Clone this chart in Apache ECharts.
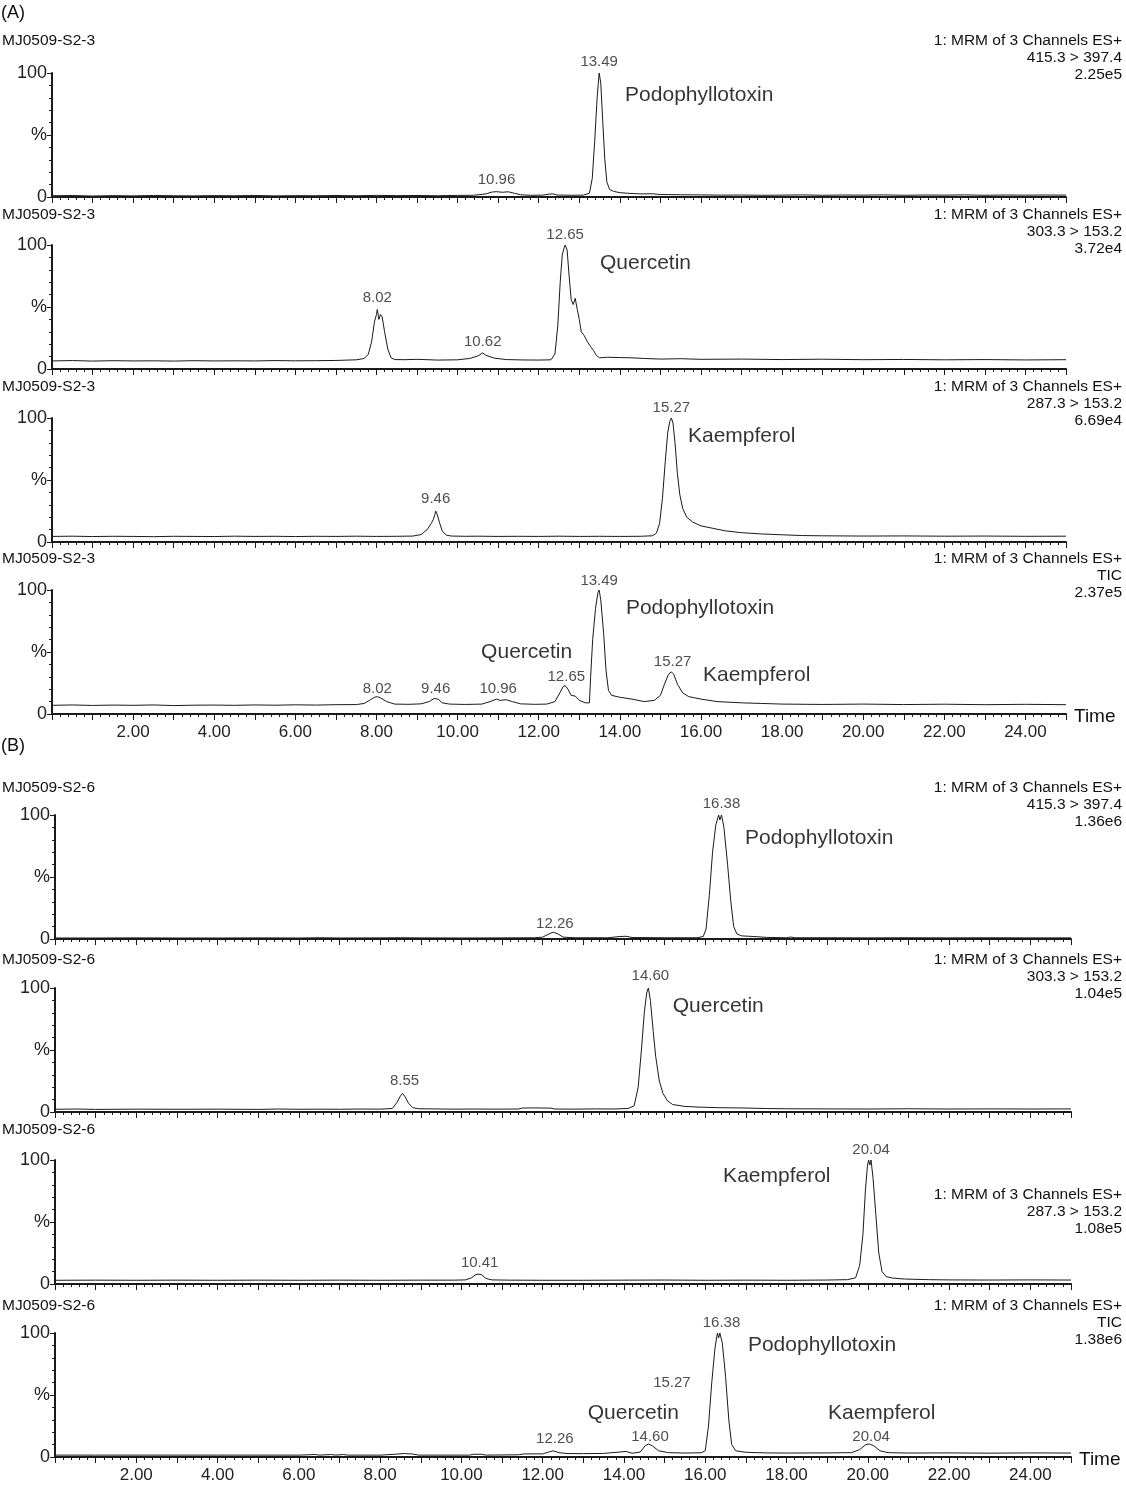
<!DOCTYPE html>
<html><head><meta charset="utf-8">
<script src="https://cdn.jsdelivr.net/npm/echarts@6/dist/echarts.min.js"></script>
<style>html,body{margin:0;padding:0;background:#fff}#c{width:1126px;height:1486px}</style>
</head><body><div id="c"></div>
<script>
// ---------- data (time in min, intensity in %) ----------
const a1Podo = [[0,1],[0.5,1.2],[1,0.8],[1.5,1.1],[2,0.9],[2.5,1.2],[3,1],[3.5,0.9],[4,1.1],[4.5,1],[5,1.2],[5.5,0.9],[6,1.1],[6.5,1],[7,1.2],[7.5,1],[8,1.3],[8.5,1.1],[9,1.2],[9.5,1.0],[10,1.3],[10.4,1.4],[10.7,2.5],[10.85,4],[10.96,4.3],[11.1,3.8],[11.25,4.2],[11.4,3],[11.55,1.8],[11.8,1.4],[12.1,1.5],[12.25,2.3],[12.35,2.5],[12.45,1.6],[12.8,1.4],[13.1,1.5],[13.25,3],[13.32,15],[13.38,45],[13.44,80],[13.49,100],[13.53,92],[13.58,60],[13.63,30],[13.68,12],[13.75,6],[13.85,4.5],[14,3.5],[14.2,3],[14.5,2.5],[14.8,2.6],[15,2],[15.5,1.8],[16,1.7],[16.5,1.5],[17,1.6],[17.5,1.4],[18,1.5],[18.5,1.7],[19,1.4],[19.5,1.6],[20,1.5],[20.5,1.7],[21,1.4],[21.5,1.6],[22,1.5],[22.5,1.7],[23,1.4],[23.5,1.6],[24,1.5],[24.5,1.6],[25,1.5]];
const a2Quer = [[0,6.5],[0.5,6.8],[1,6.4],[1.5,6.7],[2,6.5],[2.5,6.6],[3,6.4],[3.5,6.7],[4,6.5],[4.5,6.6],[5,6.5],[5.5,6.8],[6,6.6],[6.5,6.7],[7,6.9],[7.3,7.2],[7.5,7.4],[7.7,8.5],[7.8,12],[7.88,22],[7.95,38],[8.0,44],[8.02,48],[8.06,40],[8.1,44],[8.14,42],[8.2,30],[8.28,16],[8.36,9],[8.45,7.6],[8.7,7.5],[9,7.8],[9.5,7.2],[10,7.4],[10.3,8.5],[10.5,10.5],[10.62,13],[10.7,11],[10.9,8.8],[11.2,7.6],[11.6,7.3],[12,7.2],[12.3,7.4],[12.4,12],[12.47,35],[12.53,70],[12.58,92],[12.63,98],[12.65,100],[12.7,96],[12.75,75],[12.8,56],[12.85,52],[12.9,57],[12.95,48],[13.0,40],[13.05,30],[13.12,27],[13.2,22],[13.28,18],[13.35,15],[13.42,11],[13.5,9],[13.7,9.5],[14,9.2],[14.3,9],[14.6,8.5],[15,8],[15.5,8.3],[16,7.8],[17,8],[18,7.6],[19,7.9],[20,7.5],[21,7.7],[22,7.4],[23,7.6],[24,7.3],[25,7.5]];
const a3Kaem = [[0,4.5],[0.5,4.7],[1,4.4],[1.5,4.6],[2,4.5],[2.5,4.3],[3,4.6],[3.5,4.5],[4,4.4],[4.5,4.7],[5,4.5],[5.5,4.6],[6,4.4],[6.5,4.6],[7,4.5],[7.5,4.7],[8,4.5],[8.5,4.6],[8.9,4.8],[9.1,6],[9.25,10],[9.35,15],[9.4,18],[9.44,22],[9.46,25],[9.5,22],[9.55,16],[9.62,9],[9.72,5.5],[9.85,4.8],[10.2,4.6],[10.5,4.7],[11,4.5],[11.5,4.6],[12,4.5],[12.5,4.7],[13,4.5],[13.5,4.6],[14,4.5],[14.5,4.6],[14.8,5],[14.9,7],[14.98,15],[15.05,35],[15.12,65],[15.18,88],[15.23,97],[15.27,100],[15.31,96],[15.36,80],[15.42,55],[15.48,38],[15.55,27],[15.65,20],[15.8,16],[16,13],[16.3,11],[16.6,9],[17,7.5],[17.5,6.5],[18,5.8],[18.5,5.2],[19,5],[20,4.8],[21,4.9],[22,4.7],[23,4.8],[24,4.6],[25,4.7]];
const a4Tic = [[0,7],[0.5,7.3],[1,6.9],[1.5,7.2],[2,7],[2.5,7.3],[3,6.8],[3.5,7.1],[4,7.2],[4.5,7],[5,7.3],[5.5,7.1],[6,7.4],[6.5,7.2],[7,7.5],[7.5,7.6],[7.7,8.5],[7.85,11.5],[7.95,13.5],[8.02,14],[8.1,13],[8.25,10],[8.45,8],[8.8,7.8],[9.1,8.2],[9.3,10],[9.42,12.5],[9.46,14],[9.52,12],[9.62,9],[9.8,8],[10.2,7.7],[10.6,8],[10.8,10],[10.96,12],[11.05,11],[11.2,11.5],[11.35,10],[11.55,8.2],[11.9,7.8],[12.2,8],[12.4,10],[12.52,17],[12.6,22],[12.65,23],[12.72,20],[12.8,15],[12.9,14.5],[13,11],[13.15,9],[13.25,9],[13.28,30],[13.33,60],[13.4,85],[13.46,98],[13.49,100],[13.53,92],[13.6,65],[13.66,35],[13.72,19],[13.8,15],[14,13.5],[14.3,12],[14.6,10],[14.85,11],[15.0,15],[15.1,24],[15.2,32],[15.27,34],[15.33,32],[15.42,24],[15.55,17],[15.7,14],[16,12],[16.4,10],[17,9],[17.5,8.5],[18,8],[19,7.7],[20,8],[21,7.6],[22,7.9],[23,7.5],[24,7.8],[25,7.5]];

const b1Podo = [[0,0.8],[1,0.8],[2,0.9],[3,0.8],[4,0.8],[5,0.9],[6,0.8],[6.5,1],[7,0.8],[8,0.9],[8.5,1],[9,0.9],[10,0.8],[11,0.9],[11.8,1],[12.0,1.5],[12.15,4],[12.26,5.5],[12.38,4],[12.5,1.5],[12.8,1],[13.6,1],[13.9,2],[14.05,2.2],[14.2,1.2],[15,1],[15.8,1],[15.95,2],[16.02,8],[16.1,35],[16.18,70],[16.26,92],[16.33,100],[16.36,96],[16.4,100],[16.46,90],[16.55,60],[16.63,30],[16.7,10],[16.78,4],[16.9,2.5],[17.2,2.0],[17.5,1.3],[18,1],[18.1,1.6],[18.2,1],[19,1],[20,0.9],[21,1],[22,0.9],[23,1],[24,0.9],[25,0.9]];
const b2Quer = [[0,2.2],[0.5,2.4],[1,2.1],[2,2.3],[3,2.2],[4,2.3],[5,2.1],[5.5,2.4],[6,2.2],[6.5,2.3],[7,2.2],[7.5,2.4],[8,2.3],[8.3,2.8],[8.42,8],[8.5,13],[8.55,15],[8.62,12],[8.7,7],[8.8,3.5],[8.95,2.6],[9.3,2.5],[9.8,2.3],[10.3,2.4],[10.8,2.3],[11.4,2.4],[11.5,3.2],[11.8,3.3],[12.2,3.1],[12.3,2.4],[12.8,2.3],[13.3,2.5],[13.7,2.4],[14.1,2.8],[14.25,5],[14.35,20],[14.43,50],[14.5,80],[14.56,96],[14.6,100],[14.65,90],[14.72,65],[14.78,45],[14.87,25],[14.96,15],[15.07,9],[15.2,6],[15.5,4.5],[15.8,4],[16.3,3.5],[17,3.2],[17.5,2.8],[18,2.6],[19,2.5],[20,2.4],[21,2.6],[22,2.4],[23,2.5],[24,2.4],[25,2.5]];
const b3Kaem = [[0,3],[1,3.1],[2,3],[3,3.1],[4,3],[5,3.1],[6,3],[7,3.1],[8,3],[9,3.1],[9.8,3.1],[10.1,3.3],[10.25,5],[10.35,7.5],[10.41,8],[10.45,6.5],[10.5,7.5],[10.6,4.5],[10.75,3.3],[11.2,3.1],[12,3],[13,3],[14,3.1],[15,3.2],[16,3],[17,3.1],[18,3],[19,3.2],[19.5,3.5],[19.7,5],[19.8,15],[19.88,40],[19.94,75],[19.99,95],[20.02,100],[20.05,96],[20.08,100],[20.13,85],[20.2,55],[20.27,25],[20.35,10],[20.45,6],[20.6,4.8],[20.9,4],[21.5,3.5],[22,3.3],[23,3.2],[24,3.3],[25,3.2]];
const b4Tic = [[0,1.5],[1,1.5],[2,1.5],[3,1.5],[4,1.5],[5,1.5],[6,1.5],[6.4,2],[6.5,1.5],[6.8,2],[6.9,1.5],[7.1,2],[7.2,1.5],[8,1.5],[8.4,2.3],[8.6,2.8],[8.8,2.4],[8.95,1.5],[10.2,1.5],[10.3,2.2],[10.5,2.2],[10.6,1.5],[11.4,1.8],[11.55,2.5],[12.0,2.5],[12.15,4],[12.26,5],[12.4,3.5],[12.6,2.8],[13,2.7],[13.5,2.9],[13.9,4],[14.05,4.5],[14.2,3],[14.4,4],[14.52,9],[14.6,10.5],[14.7,9],[14.85,5],[15.1,3.5],[15.5,3.2],[15.9,3.4],[16.0,5],[16.08,25],[16.16,60],[16.24,88],[16.3,100],[16.33,96],[16.36,100],[16.42,92],[16.5,65],[16.58,30],[16.65,10],[16.75,5],[17,3.8],[17.5,3.3],[18,3.2],[19,3.3],[19.6,3.5],[19.8,6],[19.95,10],[20.04,10.5],[20.15,9],[20.3,5],[20.5,3.5],[21,3.2],[22,3.3],[23,3.1],[24,3.3],[25,3.2]];

// annotations: [time, %, text, kind]  kind: 'rt' = retention time, 'name' = compound name
const a1Notes = [[13.49,109,'13.49','rt'],[10.96,14,'10.96','rt'],[14.13,82,'Podophyllotoxin','name']];
const a2Notes = [[12.65,108,'12.65','rt'],[8.02,57,'8.02','rt'],[10.62,22,'10.62','rt'],[13.51,85,'Quercetin','name']];
const a3Notes = [[15.27,108,'15.27','rt'],[9.46,35,'9.46','rt'],[15.68,85,'Kaempferol','name']];
const a4Notes = [[13.49,107,'13.49','rt'],[14.15,85,'Podophyllotoxin','name'],[10.58,50,'Quercetin','name'],[15.3,42,'15.27','rt'],[16.05,31,'Kaempferol','name'],[8.02,20,'8.02','rt'],[9.46,20,'9.46','rt'],[11.0,20,'10.96','rt'],[12.68,30,'12.65','rt']];
const b1Notes = [[16.4,109,'16.38','rt'],[16.98,81,'Podophyllotoxin','name'],[12.3,12,'12.26','rt']];
const b2Notes = [[14.65,110,'14.60','rt'],[15.2,85,'Quercetin','name'],[8.6,25,'8.55','rt']];
const b3Notes = [[20.08,108,'20.04','rt'],[16.44,87,'Kaempferol','name'],[10.45,17,'10.41','rt']];
const b4Notes = [[16.4,108,'16.38','rt'],[17.05,90,'Podophyllotoxin','name'],[15.18,60,'15.27','rt'],[13.11,35,'Quercetin','name'],[14.64,16,'14.60','rt'],[19.02,35,'Kaempferol','name'],[20.08,16,'20.04','rt'],[12.3,15,'12.26','rt']];

const sampleA = 'MJ0509-S2-3', sampleB = 'MJ0509-S2-6';
const infoTexts = [
  ['1: MRM of 3 Channels ES+','415.3 > 397.4','2.25e5'],
  ['1: MRM of 3 Channels ES+','303.3 > 153.2','3.72e4'],
  ['1: MRM of 3 Channels ES+','287.3 > 153.2','6.69e4'],
  ['1: MRM of 3 Channels ES+','TIC','2.37e5'],
  ['1: MRM of 3 Channels ES+','415.3 > 397.4','1.36e6'],
  ['1: MRM of 3 Channels ES+','303.3 > 153.2','1.04e5'],
  ['1: MRM of 3 Channels ES+','287.3 > 153.2','1.08e5'],
  ['1: MRM of 3 Channels ES+','TIC','1.38e6']
];
const yLabels = {0:'0',50:'%',100:'100'};

// ---------- layout ----------
const FONT = '"Liberation Sans", Arial, Helvetica, sans-serif';
const panels = [
  {data:a1Podo, notes:a1Notes, top:73,  left:52, width:1014, last:false, sample:sampleA, headY:41,  infoY:41},
  {data:a2Quer, notes:a2Notes, top:245, left:52, width:1014, last:false, sample:sampleA, headY:215, infoY:215},
  {data:a3Kaem, notes:a3Notes, top:418, left:52, width:1014, last:false, sample:sampleA, headY:387, infoY:387},
  {data:a4Tic,  notes:a4Notes, top:590, left:52, width:1014, last:true,  sample:sampleA, headY:559, infoY:559},
  {data:b1Podo, notes:b1Notes, top:815, left:55, width:1016, last:false, sample:sampleB, headY:788, infoY:788},
  {data:b2Quer, notes:b2Notes, top:988, left:55, width:1016, last:false, sample:sampleB, headY:960, infoY:960},
  {data:b3Kaem, notes:b3Notes, top:1160,left:55, width:1016, last:false, sample:sampleB, headY:1130,infoY:1195},
  {data:b4Tic,  notes:b4Notes, top:1333,left:55, width:1016, last:true,  sample:sampleB, headY:1306,infoY:1306}
];
const PH = 124;

const grid = [], xAxis = [], yAxis = [], series = [], graphic = [];
const dark = '#1a1a1a';
panels.forEach((p, i) => {
  grid.push({left:p.left, top:p.top, width:p.width, height:PH, containLabel:false});
  xAxis.push({
    type:'value', gridIndex:i, min:0, max:25, interval:1,
    axisLine:{show:true, onZero:false, lineStyle:{color:dark, width:2}},
    axisTick:{show:true, length:6, lineStyle:{color:dark, width:1}},
    minorTick:{show:true, splitNumber:5, length:3, lineStyle:{color:dark, width:1}},
    splitLine:{show:false}, minorSplitLine:{show:false},
    axisLabel:{show:p.last, margin:10, fontSize:17, color:'#222', fontFamily:FONT,
      formatter:v => (v > 0 && v % 2 === 0) ? v.toFixed(2) : ''}
  });
  yAxis.push({
    type:'value', gridIndex:i, min:0, max:100, interval:50,
    axisLine:{show:true, lineStyle:{color:dark, width:2}},
    axisTick:{show:true, length:5, lineStyle:{color:dark, width:1}},
    minorTick:{show:true, splitNumber:5, length:3, lineStyle:{color:dark, width:1}},
    splitLine:{show:false}, minorSplitLine:{show:false},
    axisLabel:{margin:5, fontSize:18, color:'#222', fontFamily:FONT, formatter:v => yLabels[v] || ''}
  });
  series.push({
    type:'line', xAxisIndex:i, yAxisIndex:i, data:p.data, showSymbol:false, symbol:'none',
    lineStyle:{color:dark, width:1}, animation:false, silent:true, clip:false
  });
  series.push({
    type:'scatter', xAxisIndex:i, yAxisIndex:i, symbolSize:0, clip:false, silent:true, animation:false,
    itemStyle:{color:'rgba(0,0,0,0)'},
    data:p.notes.map(n => ({
      value:[n[0], n[1]],
      label:{show:true, position:'inside', formatter:n[2],
        align: n[3] === 'name' ? 'left' : 'center', verticalAlign:'middle',
        fontSize: n[3] === 'name' ? 21 : 15, color: n[3] === 'name' ? '#000' : '#222',
        textBorderWidth:0, fontFamily:FONT}
    }))
  });
  graphic.push({type:'text', left:2, top:p.headY - 8, silent:true,
    style:{text:p.sample, font:'15.5px ' + FONT, fill:'#111'}});
  infoTexts[i].forEach((t, k) => {
    graphic.push({type:'text', right:4, top:p.infoY - 8 + k * 17, silent:true,
      style:{text:t, font:'15.5px ' + FONT, fill:'#111', textAlign:'right'}});
  });
  if (p.last) {
    graphic.push({type:'text', left:p.left + p.width + 8, top:p.top + PH - 7, silent:true,
      style:{text:'Time', font:'19px ' + FONT, fill:'#111'}});
  }
});
graphic.push({type:'text', left:1, top:4, silent:true, style:{text:'(A)', font:'18px ' + FONT, fill:'#111'}});
graphic.push({type:'text', left:1, top:737, silent:true, style:{text:'(B)', font:'18px ' + FONT, fill:'#111'}});

const chart = echarts.init(document.getElementById('c'), null, {renderer:'canvas'});
chart.setOption({backgroundColor:'#fff', animation:false, grid, xAxis, yAxis, series, graphic});
</script>
</body></html>
